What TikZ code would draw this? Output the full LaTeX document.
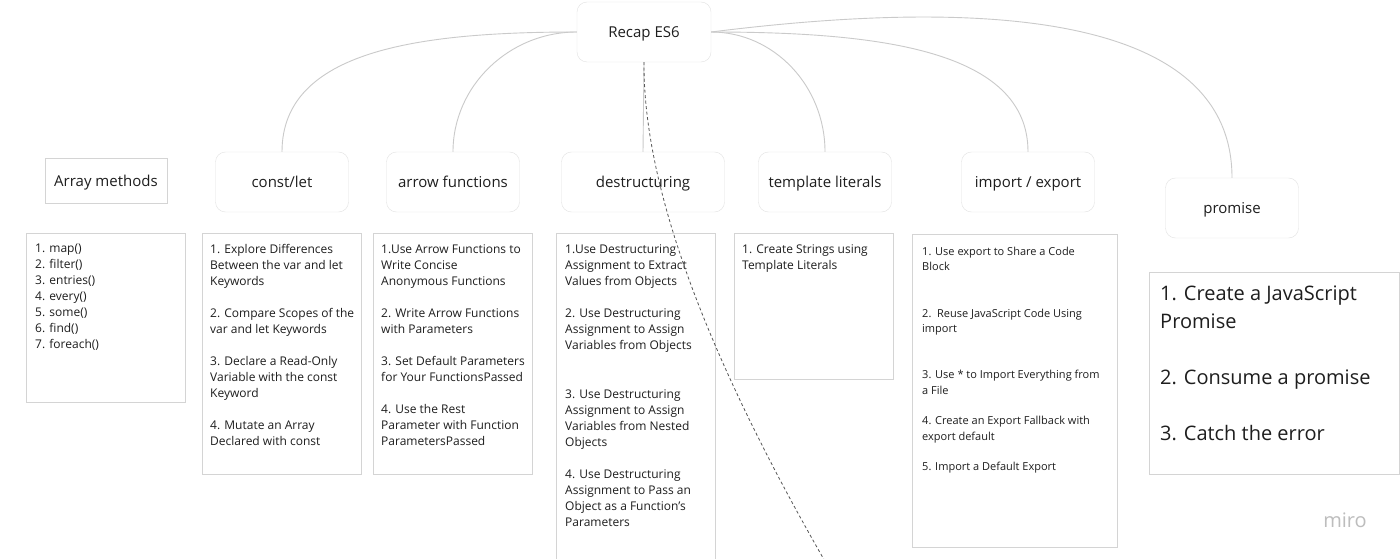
\documentclass[tikz,border=0pt]{standalone}
\usepackage{fontspec}
\setmainfont{Open Sans}
\usetikzlibrary{positioning}
\definecolor{boxline}{HTML}{E2E2E2}
\definecolor{listline}{HTML}{D4D4D4}
\definecolor{linkline}{HTML}{CACACA}
\definecolor{dashline}{HTML}{555555}
\definecolor{ink}{HTML}{1E1E1E}
\definecolor{mirogray}{HTML}{BDBDBD}
\begin{document}
\begin{tikzpicture}[x=1pt, y=-1pt,
  topic/.style={draw=boxline, rounded corners=10pt, minimum width=133pt, minimum height=60pt, text height=13pt, text depth=2pt, font=\fontsize{15}{18}\selectfont, text=ink},
  listbox/.style={draw=listline, anchor=north west, inner sep=0pt, minimum width=159pt},
  listtxt/.style={align=left, inner sep=0pt, text=ink, font=\fontsize{12}{16}\selectfont},
  link/.style={draw=linkline, line width=0.9pt}]
  \useasboundingbox[fill=white] (0,0) rectangle (1400,559);

  \node[topic, minimum width=134pt] (recap) at (644,32) {Recap ES6};
  \node[draw=listline, minimum width=122pt, minimum height=45pt, text height=13pt, text depth=2pt, font=\fontsize{15}{18}\selectfont, text=ink] (arr) at (106,181) {Array methods};
  \node[topic] (cons) at (282,182) {const/let};
  \node[topic] (arrow) at (453,182) {arrow functions};
  \node[topic, minimum width=163pt] (destr) at (643,182) {destructuring};
  \node[topic] (templ) at (825,182) {template literals};
  \node[topic] (imp) at (1028,182) {import / export};
  \node[topic] (prom) at (1232,208) {promise};

  \node[listbox, minimum height=169pt] (arrbox) at (26,233) {};
  \node[listtxt, below right=11pt and 9pt of arrbox.north west] (arrtxt) {1. map()\\2. filter()\\3. entries()\\4. every()\\5. some()\\6. find()\\7. foreach()};

  \node[listbox, minimum height=241pt] (consbox) at (202,233) {};
  \node[listtxt, below right=11pt and 8pt of consbox.north west] (constxt) {1. Explore Differences\\Between the var and let\\Keywords\\[16pt]2. Compare Scopes of the\\var and let Keywords\\[16pt]3. Declare a Read-Only\\Variable with the const\\Keyword\\[16pt]4. Mutate an Array\\Declared with const};

  \node[listbox, minimum height=241pt] (arrowbox) at (373,233) {};
  \node[listtxt, below right=11pt and 8pt of arrowbox.north west] (arrowtxt) {1.Use Arrow Functions to\\Write Concise\\Anonymous Functions\\[16pt]2. Write Arrow Functions\\with Parameters\\[16pt]3. Set Default Parameters\\for Your FunctionsPassed\\[16pt]4. Use the Rest\\Parameter with Function\\ParametersPassed};

  \node[listbox, minimum height=345pt] (destrbox) at (556,233) {};
  \node[listtxt, below right=11pt and 9pt of destrbox.north west] (destrtxt) {1.Use Destructuring\\Assignment to Extract\\Values from Objects\\[16pt]2. Use Destructuring\\Assignment to Assign\\Variables from Objects\\[33pt]3. Use Destructuring\\Assignment to Assign\\Variables from Nested\\Objects\\[16pt]4. Use Destructuring\\Assignment to Pass an\\Object as a Function's\\Parameters};

  \node[listbox, minimum height=146pt] (templbox) at (734,233) {};
  \node[listtxt, below right=11pt and 8pt of templbox.north west] (templtxt) {1. Create Strings using\\Template Literals};

  \node[listbox, minimum width=205pt, minimum height=313pt] (impbox) at (912,234) {};
  \node[listtxt, font=\fontsize{11}{15.3}\selectfont, below right=13pt and 10pt of impbox.north west] (imptxt) {1. Use export to Share a Code\\Block\\[31pt]2.\ \ Reuse JavaScript Code Using\\import\\[31pt]3. Use * to Import Everything from\\a File\\[15.5pt]4. Create an Export Fallback with\\export default\\[15.5pt]5. Import a Default Export};

  \node[listbox, minimum width=250pt, minimum height=202pt] (prombox) at (1149,272) {};
  \node[listtxt, font=\fontsize{20}{27.5}\selectfont, below right=14pt and 11pt of prombox.north west] (promtxt) {1. Create a JavaScript\\Promise\\[29pt]2. Consume a promise\\[28pt]3. Catch the error};

  \node[font=\fontsize{20}{24}\selectfont, text=mirogray] (miro) at (1345,520) {miro};

  \draw[link] (recap.west) .. controls (420,32) and (282,50) .. (cons.north);
  \draw[link] (recap.west) .. controls (509,32) and (453,86) .. (arrow.north);
  \draw[link] (recap.south) -- (destr.north);
  \draw[link] (recap.east) .. controls (774,32) and (825,86) .. (templ.north);
  \draw[link] (recap.east) .. controls (879,32) and (1028,50) .. (imp.north);
  \draw[link] (recap.east) .. controls (950,2) and (1232,2) .. (prom.north);
  \coordinate (tail) at (830,570);
  \draw[dashline, dash pattern=on 3pt off 2.5pt, line width=0.8pt] (recap.south) .. controls (643,200) and (720,380) .. (tail);
\end{tikzpicture}
\end{document}
